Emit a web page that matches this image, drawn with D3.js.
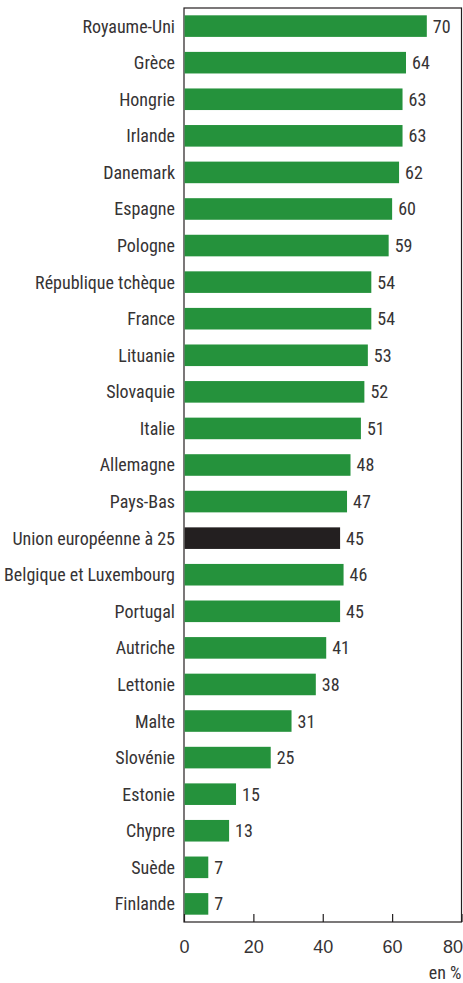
<!DOCTYPE html>
<html>
<head>
<meta charset="utf-8">
<script src="https://cdn.jsdelivr.net/npm/d3@7"></script>
<style>
  body { margin: 0; background: #fff; }
  svg text { font-family: "Liberation Sans Narrow", "Arial Narrow", "Roboto Condensed", sans-serif; fill: #363334; }
</style>
</head>
<body>
<svg id="chart" width="463" height="983"></svg>
<script>
// Data
const countries = ["Royaume-Uni", "Grèce ", "Hongrie", "Irlande", "Danemark", "Espagne", "Pologne",
    "République tchèque", "France", "Lituanie", "Slovaquie", "Italie", "Allemagne", "Pays-Bas",
    "Union européenne à 25", "Belgique et Luxembourg", "Portugal", "Autriche", "Lettonie", "Malte",
    "Slovénie", "Estonie", "Chypre", "Suède", "Finlande"];
const values = [70, 64, 63, 63, 62, 60, 59, 54, 54, 53, 52, 51, 48, 47, 45, 46, 45, 41, 38, 31, 25, 15, 13, 7, 7];
const highlight = "Union européenne à 25";
const xTicks = [0, 20, 40, 60, 80];

const rows = countries.map((c, i) => ({name: c, value: values[i]}));

// Layout
const svg = d3.select("#chart");
const plotLeft = 184, plotRight = 461.5, plotTop = 8, plotBottom = 922;
const fs = 18;

const x = d3.scaleLinear().domain([0, 80]).range([plotLeft, plotRight]);
const y = d3.scaleBand().domain(countries).range([plotTop, plotBottom]).paddingInner(0.41).paddingOuter(0.2);

// Frame
svg.append("rect")
    .attr("x", plotLeft).attr("y", plotTop)
    .attr("width", plotRight - plotLeft).attr("height", plotBottom - plotTop)
    .attr("fill", "none").attr("stroke", "#231f20").attr("stroke-width", 1.2);

// Bars
svg.append("g")
    .selectAll("rect")
    .data(rows)
    .enter().append("rect")
    .attr("x", x(0) + 0.6)
    .attr("y", d => y(d.name))
    .attr("width", d => x(d.value) - x(0) - 0.6)
    .attr("height", y.bandwidth())
    .attr("fill", d => d.name === highlight ? "#231f20" : "#25923c");

// Value labels
svg.append("g")
    .selectAll("text")
    .data(rows)
    .enter().append("text")
    .attr("x", d => x(d.value) + 6)
    .attr("y", d => y(d.name) + y.bandwidth() / 2)
    .attr("dy", "0.36em")
    .attr("font-size", fs)
    .text(d => d.value);

// Category labels
svg.append("g")
    .selectAll("text")
    .data(rows)
    .enter().append("text")
    .attr("x", plotLeft - 9)
    .attr("y", d => y(d.name) + y.bandwidth() / 2)
    .attr("dy", "0.36em")
    .attr("text-anchor", "end")
    .attr("font-size", fs)
    .text(d => d.name);

// X axis (ticks pointing inward)
const xAxis = svg.append("g")
    .attr("transform", `translate(0,${plotBottom})`)
    .call(d3.axisBottom(x).tickValues(xTicks).tickSizeInner(-8).tickSizeOuter(0).tickPadding(18));
xAxis.select(".domain").remove();
xAxis.selectAll("line").attr("stroke", "#231f20").attr("stroke-width", 1.2);
xAxis.selectAll("text").attr("font-size", fs).attr("fill", "#363334")
    .style("font-family", "'Liberation Sans Narrow', 'Arial Narrow', sans-serif");
// last label sits against the right edge
xAxis.selectAll(".tick text").filter(d => d === 80).attr("text-anchor", "end").attr("x", 1);

svg.append("text")
    .attr("x", plotRight)
    .attr("y", 979)
    .attr("text-anchor", "end")
    .attr("font-size", fs)
    .text("en %");
</script>
</body>
</html>
